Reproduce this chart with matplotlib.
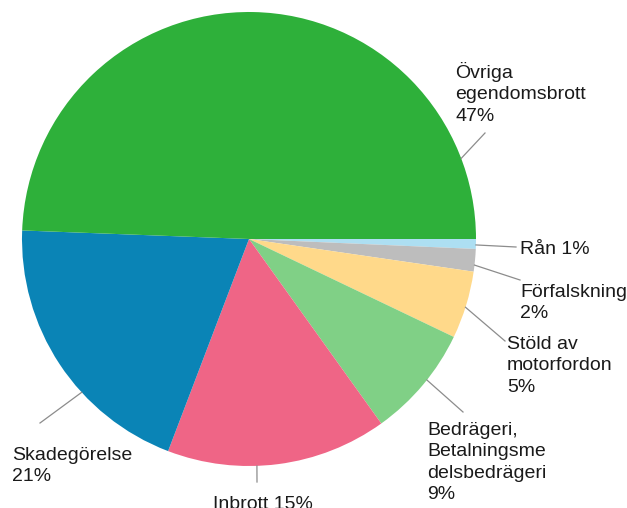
import matplotlib.pyplot as plt
import numpy as np

plt.rcParams['font.family'] = ['Liberation Sans', 'DejaVu Sans']

# Anmälda brott per kategori
categories = ['Rån', 'Förfalskning', 'Stöld av\nmotorfordon',
              'Bedrägeri,\nBetalningsme\ndelsbedrägeri', 'Inbrott',
              'Skadegörelse', 'Övriga\negendomsbrott']
# wedge sizes as drawn in the chart
shares = [0.7, 1.6, 4.8, 8.0, 15.7, 19.8, 49.4]
# percentages printed in the labels
pct_labels = ['1%', '2%', '5%', '9%', '15%', '21%', '47%']
colors = ['#addff2', '#bdbdbd', '#ffd98a', '#80d086', '#ef6586', '#0a84b6', '#2eb03a']

# label layout (pixels in the 627x508 image)
leader_angle = [-1.5, -6.6, -17.5, -38.4, -88.0, -137.5, 20.8]
leader_end = [(516, 247), (520, 280), (505, 341), (463, 412), (257, 482), (40, 423), (485, 133)]
text_pos = [(520, 241), (520, 284), (507, 336), (427, 422), (213, 496), (12, 447), (455, 62)]
inline = [True, False, False, False, True, False, False]

W, H = 627, 508
cx, cy, R = 249, 239, 227


def to_data(px, py):
    return (px - cx) / R, (cy - py) / R


fig = plt.figure(figsize=(W / 100, H / 100), dpi=100)
ax = fig.add_axes([0, 0, 1, 1])
ax.pie(shares, colors=colors, startangle=0, counterclock=False, radius=1,
       wedgeprops=dict(linewidth=0))
ax.set_xlim(to_data(0, 0)[0], to_data(W, 0)[0])
ax.set_ylim(to_data(0, H)[1], to_data(0, 0)[1])
ax.axis('off')

for i, name in enumerate(categories):
    a = np.radians(leader_angle[i])
    x0, y0 = np.cos(a), np.sin(a)
    x1, y1 = to_data(*leader_end[i])
    ax.plot([x0, x1], [y0, y1], color='#8c8c8c', lw=0.9)
    sep = ' ' if inline[i] else '\n'
    tx, ty = to_data(*text_pos[i])
    ax.text(tx, ty, f'{name}{sep}{pct_labels[i]}', ha='left', va='top',
            fontsize=14, color='#1a1a1a', linespacing=1.33)

fig.savefig('out.png', dpi=100)
